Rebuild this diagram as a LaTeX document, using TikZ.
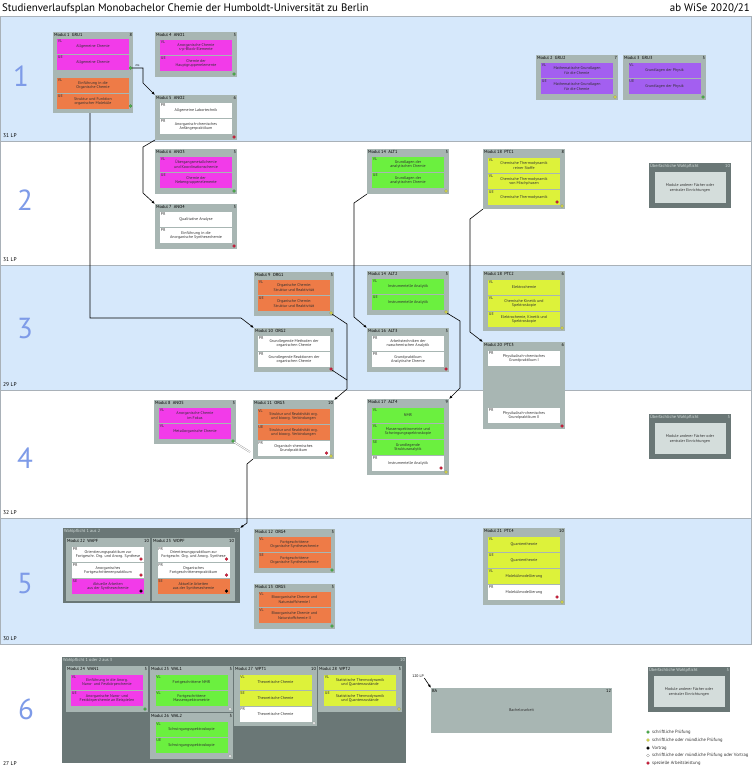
\documentclass[tikz,border=0pt]{standalone}
\usepackage{fontspec}
\setmainfont{PT Sans}
\usetikzlibrary{arrows.meta}
\definecolor{bandblue}{HTML}{D6E8FB}
\definecolor{bandline}{HTML}{A9B1B8}
\definecolor{modgray}{HTML}{A8B6B3}
\definecolor{darkg}{HTML}{6A7776}
\definecolor{lightg}{HTML}{D4DDDB}
\definecolor{cpink}{HTML}{F23BE9}
\definecolor{corange}{HTML}{EE7B47}
\definecolor{cgreen}{HTML}{6BF03F}
\definecolor{cyellow}{HTML}{DDF23A}
\definecolor{cpurple}{HTML}{A35FF0}
\definecolor{semnum}{HTML}{7E9BE8}
\definecolor{dotgreen}{HTML}{4DB34D}
\definecolor{dotyellow}{HTML}{E2E34C}
\definecolor{dotred}{HTML}{D21E3C}
\definecolor{txtcol}{HTML}{303030}
\tikzset{
  modbox/.style={fill=modgray, draw=none, inner sep=0, outer sep=0, anchor=north west},
  hdr/.style={font=\fontsize{4.4}{4.8}\selectfont, inner sep=0.9pt, text=black},
  lvbox/.style={draw=none, inner sep=0, outer sep=0, minimum width=72pt, minimum height=15pt, anchor=north},
  lvtxt/.style={font=\fontsize{4}{4.8}\selectfont, align=center, inner sep=0, text=txtcol},
  typ/.style={font=\fontsize{4}{4}\selectfont, inner sep=0.7pt, anchor=north west, text=txtcol},
  dotbase/.style={circle, inner sep=0, minimum size=3pt, line width=0.3pt},
  dgreen/.style={dotbase, fill=dotgreen, draw=dotgreen!70!black},
  dyellow/.style={dotbase, fill=dotyellow, draw=dotyellow!60!black},
  dred/.style={dotbase, fill=dotred, draw=dotred!70!black},
  dblack/.style={dotbase, fill=black, draw=black},
  dwhite/.style={dotbase, fill=white, draw=gray},
  conn/.style={draw=black, line width=0.6pt, -{Latex[length=3.5pt,width=2.6pt]}},
  plainline/.style={draw=black, line width=0.6pt},
  dbl/.style={draw=gray!80, line width=0.4pt, double=white, double distance=0.9pt},
  semn/.style={font=\fontsize{29}{29}\selectfont, text=semnum, inner sep=0},
  lp/.style={font=\fontsize{5.5}{6}\selectfont, anchor=base west, inner sep=0},
  lgtxt/.style={font=\fontsize{4.6}{5}\selectfont, anchor=west, inner sep=0, text=txtcol},
}
\newcommand\modbox[7]{%
  \node[modbox, minimum width=#4pt, minimum height=#5pt] (#1) at (#2,#3) {};
  \node[hdr, anchor=north west] (#1-h) at (#1.north west) {#6};
  \node[hdr, anchor=north east] (#1-n) at (#1.north east) {#7};
}
\newcommand\lvx[6]{%
  \node[lvbox, fill=#4] (#2) at ([yshift=-#3pt]#1.north) {};
  \node[lvtxt] (#2-t) at (#2.center) {#6};
  \node[typ] (#2-k) at (#2.north west) {#5};
}
\newcommand\mdotx[3]{\node[#2] (#1) at ([xshift=-3pt,yshift=3pt]#3.south east) {};}
\newcommand\uew[4]{%
  \node[modbox, fill=darkg, minimum width=82pt, minimum height=45pt] (#1) at (#2,#3) {};
  \node[hdr, text=lightg, anchor=north west] (#1-h) at (#1.north west) {Überfachliche Wahlpflicht};
  \node[hdr, text=lightg, anchor=north east] (#1-n) at (#1.north east) {#4};
  \node[fill=lightg, inner sep=0, minimum width=71pt, minimum height=31pt, anchor=north] (#1-i) at ([yshift=-9pt]#1.north) {};
  \node[lvtxt] (#1-t) at (#1-i.center) {Module anderer Fächer oder\\zentraler Einrichtungen};
}
\newcommand\wpbox[7]{%
  \node[modbox, fill=darkg, minimum width=#4pt, minimum height=#5pt] (#1) at (#2,#3) {};
  \node[hdr, text=lightg, anchor=north west] (#1-h) at (#1.north west) {#6};
  \node[hdr, text=lightg, anchor=north east] (#1-n) at (#1.north east) {#7};
}
\begin{document}
\begin{tikzpicture}[x=1pt,y=-1pt]
\useasboundingbox (0,0) rectangle (753,768);
% bands
\draw[bandline, line width=0.8pt, fill=bandblue] (0.4,16) rectangle (751.5,141);
\draw[bandline, line width=0.8pt, fill=white] (0.4,141) rectangle (751.5,265);
\draw[bandline, line width=0.8pt, fill=bandblue] (0.4,265) rectangle (751.5,390);
\draw[bandline, line width=0.8pt, fill=white] (0.4,390) rectangle (751.5,518);
\draw[bandline, line width=0.8pt, fill=bandblue] (0.4,518) rectangle (751.5,644);
\draw[bandline, line width=0.8pt, fill=white] (0.4,644) -- (751.5,644);
% title
\node[anchor=base west, inner sep=0, font=\fontsize{10.9}{12}\selectfont] (title) at (2,12) {Studienverlaufsplan Monobachelor Chemie der Humboldt-Universität zu Berlin};
\node[anchor=base east, inner sep=0, font=\fontsize{10.9}{12}\selectfont] (date) at (750,12) {ab WiSe 2020/21};
% semesters
\node[semn] (s1) at (21,76) {1};
\node[semn] (s2) at (25,200) {2};
\node[semn] (s3) at (25,329) {3};
\node[semn] (s4) at (25,458) {4};
\node[semn] (s5) at (25,584) {5};
\node[semn] (s6) at (26,709) {6};
\node[lp] (lp1) at (3,137) {31 LP};
\node[lp] (lp2) at (3,261) {31 LP};
\node[lp] (lp3) at (3,386) {29 LP};
\node[lp] (lp4) at (3,514) {32 LP};
\node[lp] (lp5) at (3,640) {30 LP};
\node[lp] (lp6) at (3,765) {27 LP};
% ---------- band 1
\modbox{GRU1}{53}{32}{80}{81}{Modul 1\ \ GRU1}{8}
\lvx{GRU1}{g1a}{7}{cpink}{VL}{Allgemeine Chemie}
\lvx{GRU1}{g1b}{23}{cpink}{UE}{Allgemeine Chemie}
\node[dgreen] (g1d1) at (130.5,68) {};
\lvx{GRU1}{g1c}{46}{corange}{VL}{Einführung in die\\Organische Chemie}
\lvx{GRU1}{g1e}{62}{corange}{UE}{Struktur und Funktion\\organischer Moleküle}
\node[dgreen] (g1d2) at (130.5,106) {};
\modbox{ANO1}{155}{32}{82}{45}{Modul 4\ \ ANO1}{5}
\lvx{ANO1}{a1a}{8}{cpink}{VL}{Anorganische Chemie\\s-p-Block-Elemente}
\lvx{ANO1}{a1b}{24}{cpink}{UE}{Chemie der\\Hauptgruppenelemente}
\mdotx{a1d}{dgreen}{ANO1}
\modbox{ANO2}{155}{95}{82}{45}{Modul 5\ \ ANO2}{6}
\lvx{ANO2}{a2a}{8}{white}{PR}{Allgemeine Labortechnik}
\lvx{ANO2}{a2b}{24}{white}{PR}{Anorganisch-chemisches\\Anfängerpraktikum}
\mdotx{a2d}{dred}{ANO2}
\modbox{GRU2}{536}{55}{82}{45}{Modul 2\ \ GRU2}{7}
\lvx{GRU2}{g2a}{8}{cpurple}{VL}{Mathematische Grundlagen\\für die Chemie}
\lvx{GRU2}{g2b}{24}{cpurple}{UE}{Mathematische Grundlagen\\für die Chemie}
\mdotx{g2d}{dyellow}{GRU2}
\modbox{GRU3}{623}{55}{83}{45}{Modul 3\ \ GRU3}{5}
\lvx{GRU3}{g3a}{8}{cpurple}{VL}{Grundlagen der Physik}
\lvx{GRU3}{g3b}{24}{cpurple}{UE}{Grundlagen der Physik}
\mdotx{g3d}{dgreen}{GRU3}
% ---------- band 2
\modbox{ANO3}{155}{149}{82}{45}{Modul 6\ \ ANO3}{5}
\lvx{ANO3}{a3a}{8}{cpink}{VL}{Übergangsmetallchemie\\und Koordinationschemie}
\lvx{ANO3}{a3b}{24}{cpink}{UE}{Chemie der\\Nebengruppenelemente}
\mdotx{a3d}{dgreen}{ANO3}
\modbox{ANO4}{155}{204}{82}{45}{Modul 7\ \ ANO4}{5}
\lvx{ANO4}{a4a}{8}{white}{PR}{Qualitative Analyse}
\lvx{ANO4}{a4b}{24}{white}{PR}{Einführung in die\\Anorganische Synthesechemie}
\mdotx{a4d}{dred}{ANO4}
\modbox{ALT1}{367}{149}{82}{45}{Modul 14\ \ ALT1}{5}
\lvx{ALT1}{l1a}{8}{cgreen}{VL}{Grundlagen der\\analytischen Chemie}
\lvx{ALT1}{l1b}{24}{cgreen}{UE}{Grundlagen der\\analytischen Chemie}
\mdotx{l1d}{dyellow}{ALT1}
\modbox{PTC1}{483}{149}{82}{60}{Modul 18\ \ PTC1}{8}
\lvx{PTC1}{p1a}{9}{cyellow}{VL}{Chemische Thermodynamik\\reiner Stoffe}
\lvx{PTC1}{p1b}{25}{cyellow}{VL}{Chemische Thermodynamik\\von Mischphasen}
\lvx{PTC1}{p1c}{41}{cyellow}{UE}{Chemische Thermodynamik}
\mdotx{p1cd}{dred}{p1c}
\mdotx{p1d}{dyellow}{PTC1}
\uew{UW1}{649}{163}{10}
% ---------- band 3
\modbox{ORG1}{254}{272}{80}{44}{Modul 9\ \ ORG1}{5}
\lvx{ORG1}{o1a}{8}{corange}{VL}{Organische Chemie:\\Struktur und Reaktivität}
\lvx{ORG1}{o1b}{24}{corange}{UE}{Organische Chemie:\\Struktur und Reaktivität}
\mdotx{o1d}{dyellow}{ORG1}
\modbox{ORG2}{254}{328}{80}{44}{Modul 10\ \ ORG2}{5}
\lvx{ORG2}{o2a}{8}{white}{PR}{Grundlegende Methoden der\\organischen Chemie}
\lvx{ORG2}{o2b}{24}{white}{PR}{Grundlegende Reaktionen der\\organischen Chemie}
\mdotx{o2d}{dred}{ORG2}
\modbox{ALT2}{367}{271}{82}{44}{Modul 14\ \ ALT2}{5}
\lvx{ALT2}{l2a}{8}{cgreen}{VL}{Instrumentelle Analytik}
\lvx{ALT2}{l2b}{24}{cgreen}{UE}{Instrumentelle Analytik}
\mdotx{l2d}{dyellow}{ALT2}
\modbox{ALT3}{367}{328}{82}{44}{Modul 16\ \ ALT3}{5}
\lvx{ALT3}{l3a}{8}{white}{PR}{Arbeitstechniken der\\nasschemischen Analytik}
\lvx{ALT3}{l3b}{24}{white}{PR}{Grundpraktikum\\Analytische Chemie}
\mdotx{l3d}{dred}{ALT3}
\modbox{PTC2}{483}{271}{82}{60}{Modul 18\ \ PTC2}{6}
\lvx{PTC2}{p2a}{9}{cyellow}{VL}{Elektrochemie}
\lvx{PTC2}{p2b}{25}{cyellow}{VL}{Chemische Kinetik und\\Spektroskopie}
\lvx{PTC2}{p2c}{41}{cyellow}{UE}{Elektrochemie, Kinetik und\\Spektroskopie}
\mdotx{p2d}{dyellow}{PTC2}
\modbox{PTC3}{483}{342}{82}{87}{Modul 20\ \ PTC3}{6}
\lvx{PTC3}{p3a}{9}{white}{PR}{Physikalisch-chemisches\\Grundpraktikum I}
\lvx{PTC3}{p3b}{66}{white}{PR}{Physikalisch-chemisches\\Grundpraktikum II}
\mdotx{p3d}{dred}{PTC3}
% ---------- band 4
\modbox{ANO5}{154}{400}{82}{44}{Modul 8\ \ ANO5}{5}
\lvx{ANO5}{a5a}{8}{cpink}{VL}{Anorganische Chemie\\im Fokus}
\lvx{ANO5}{a5b}{24}{cpink}{VL}{Metallorganische Chemie}
\mdotx{a5d}{dgreen}{ANO5}
\modbox{ORG3}{253}{400}{81}{59}{Modul 11\ \ ORG3}{10}
\lvx{ORG3}{o3a}{9}{corange}{VL}{Struktur und Reaktivität org.\\und bioorg. Verbindungen}
\lvx{ORG3}{o3b}{25}{corange}{UE}{Struktur und Reaktivität org.\\und bioorg. Verbindungen}
\lvx{ORG3}{o3c}{41}{white}{PR}{Organisch-chemisches\\Grundpraktikum}
\mdotx{o3cd}{dred}{o3c}
\mdotx{o3d}{dyellow}{ORG3}
\modbox{ALT4}{367}{399}{82}{76}{Modul 17\ \ ALT4}{9}
\lvx{ALT4}{l4a}{9}{cgreen}{VL}{NMR}
\lvx{ALT4}{l4b}{25}{cgreen}{VL}{Massenspektrometrie und\\Schwingungsspektroskopie}
\lvx{ALT4}{l4c}{41}{cgreen}{SE}{Grundlegende\\Strukturanalytik}
\lvx{ALT4}{l4e}{57}{white}{PR}{Instrumentelle Analytik}
\mdotx{l4ed}{dred}{l4e}
\mdotx{l4d}{dyellow}{ALT4}
\uew{UW2}{649}{414}{5}
% ---------- band 5
\wpbox{WP1}{63}{528}{177}{75}{Wahlpflicht 1 aus 2}{10}
\modbox{WAPF}{66}{538}{84}{63}{Modul 22\ \ WAPF}{10}
\lvx{WAPF}{w1a}{9}{white}{PR}{Orientierungspraktikum zur\\Fortgeschr. Org. und Anorg. Synthese}
\mdotx{w1ad}{dred}{w1a}
\lvx{WAPF}{w1b}{25}{white}{PR}{Anorganisches\\Fortgeschrittenenpraktikum}
\mdotx{w1bd}{dred}{w1b}
\lvx{WAPF}{w1c}{41}{cpink}{SE}{Aktuelle Arbeiten\\aus der Synthesechemie}
\mdotx{w1cd}{dblack}{w1c}
\modbox{WOPF}{152}{538}{83}{63}{Modul 23\ \ WOPF}{10}
\lvx{WOPF}{w2a}{9}{white}{PR}{Orientierungspraktikum zur\\Fortgeschr. Org. und Anorg. Synthese}
\mdotx{w2ad}{dred}{w2a}
\lvx{WOPF}{w2b}{25}{white}{PR}{Organisches\\Fortgeschrittenenpraktikum}
\mdotx{w2bd}{dred}{w2b}
\lvx{WOPF}{w2c}{41}{corange}{SE}{Aktuelle Arbeiten\\aus der Synthesechemie}
\mdotx{w2cd}{dblack}{w2c}
\modbox{ORG4}{254}{529}{81}{44}{Modul 12\ \ ORG4}{5}
\lvx{ORG4}{o4a}{8}{corange}{VL}{Fortgeschrittene\\Organische Synthesechemie}
\lvx{ORG4}{o4b}{24}{corange}{SE}{Fortgeschrittene\\Organische Synthesechemie}
\mdotx{o4d}{dgreen}{ORG4}
\modbox{ORG5}{254}{584}{81}{45}{Modul 13\ \ ORG5}{5}
\lvx{ORG5}{o5a}{8}{corange}{VL}{Bioorganische Chemie und\\Naturstoffchemie I}
\lvx{ORG5}{o5b}{24}{corange}{VL}{Bioorganische Chemie und\\Naturstoffchemie II}
\mdotx{o5d}{dgreen}{ORG5}
\modbox{PTC4}{483}{528}{82}{77}{Modul 21\ \ PTC4}{10}
\lvx{PTC4}{p4a}{9}{cyellow}{VL}{Quantentheorie}
\lvx{PTC4}{p4b}{25}{cyellow}{UE}{Quantentheorie}
\lvx{PTC4}{p4c}{41}{cyellow}{VL}{Molekülmodellierung}
\lvx{PTC4}{p4e}{57}{white}{PR}{Molekülmodellierung}
\mdotx{p4ed}{dred}{p4e}
\mdotx{p4d}{dyellow}{PTC4}
% ---------- band 6
\wpbox{WP2}{62}{657}{344}{106}{Wahlpflicht 1 oder 2 aus 3}{10}
\modbox{WAN1}{66}{666}{82}{46}{Modul 24\ \ WAN1}{5}
\lvx{WAN1}{n1a}{9}{cpink}{VL}{Einführung in die Anorg.\\Nano- und Festkörperchemie}
\lvx{WAN1}{n1b}{25}{cpink}{UE}{Anorganische Nano- und\\Festkörperchemie an Beispielen}
\mdotx{n1d}{dgreen}{WAN1}
\modbox{WAL1}{150}{666}{83}{46}{Modul 25\ \ WAL1}{5}
\lvx{WAL1}{m1a}{9}{cgreen}{VL}{Fortgeschrittene NMR}
\lvx{WAL1}{m1b}{25}{cgreen}{VL}{Fortgeschrittene\\Massenspektrometrie}
\mdotx{m1d}{dwhite}{WAL1}
\modbox{WAL2}{150}{713}{83}{46}{Modul 26\ \ WAL2}{5}
\lvx{WAL2}{m2a}{9}{cgreen}{VL}{Schwingungsspektroskopie}
\lvx{WAL2}{m2b}{25}{cgreen}{UE}{Schwingungsspektroskopie}
\mdotx{m2d}{dwhite}{WAL2}
\modbox{WPT1}{234}{666}{83}{60}{Modul 27\ \ WPT1}{10}
\lvx{WPT1}{t1a}{9}{cyellow}{VL}{Theoretische Chemie}
\lvx{WPT1}{t1b}{25}{cyellow}{SE}{Theoretische Chemie}
\lvx{WPT1}{t1c}{41}{white}{PR}{Theoretische Chemie}
\mdotx{t1d}{dwhite}{WPT1}
\modbox{WPT2}{318}{666}{84}{46}{Modul 28\ \ WPT2}{5}
\lvx{WPT2}{t2a}{9}{cyellow}{VL}{Statistische Thermodynamik\\und Quantenzustände}
\lvx{WPT2}{t2b}{25}{cyellow}{UE}{Statistische Thermodynamik\\und Quantenzustände}
\mdotx{t2d}{dyellow}{WPT2}
\modbox{BA}{431}{688}{181}{45}{BA}{12}
\node[lvtxt] (ba-t) at (BA.center) {Bachelorarbeit};
\node[font=\fontsize{3.8}{4}\selectfont, inner sep=0.5pt] (lp120) at (418,676) {120 LP};
\uew{UW3}{648}{667}{5}
% legend
\node[dgreen] (lg1) at (648,732) {};
\node[lgtxt] (lg1t) at (652,732) {schriftliche Prüfung};
\node[dyellow] (lg2) at (648,740) {};
\node[lgtxt] (lg2t) at (652,740) {schriftliche oder mündliche Prüfung};
\node[dblack] (lg3) at (648,748) {};
\node[lgtxt] (lg3t) at (652,748) {Vortrag};
\node[dwhite] (lg4) at (648,755.5) {};
\node[lgtxt] (lg4t) at (652,755.5) {schriftliche oder mündliche Prüfung oder Vortrag};
\node[dred] (lg5) at (648,763) {};
\node[lgtxt] (lg5t) at (652,763) {spezielle Arbeitsleistung};
% connectors
\draw[conn] (g1d1.east) -- (143,68) -- (143,83) -- (ANO2.north west);
\node[font=\fontsize{3.2}{3.5}\selectfont, inner sep=0] (ms) at (137.5,65.3) {ms};
\draw[conn] ([xshift=-3pt]GRU1.south) -- (90,318) -- (241,318) -- (ORG2.north west);
\draw[conn] (ANO2.south west) -- (143,147) -- (143,193) -- (ANO4.north west);
\draw[conn] (ALT1.south west) -- (354,203) -- (354,317) -- (ALT3.north west);
\draw[conn] (PTC1.south west) -- (470,219) -- (470,332) -- (PTC3.north west);
\draw[conn] (o1d.south east) -- (347,324) -- (347,389) -- (ORG3.north east);
\draw[plainline] (o2d.south east) -- (347,380);
\draw[conn] (l2d.south east) -- (460,321) -- (460,388) -- (ALT4.north east);
\draw[conn] (ORG3.south west) -- (247,464) -- (247,523) -- (WP1.north east);
\draw[dbl] (a5d.south east) -- (250,452);
\draw[conn] (lp120.south east) -- (BA.north west);
\end{tikzpicture}
\end{document}
